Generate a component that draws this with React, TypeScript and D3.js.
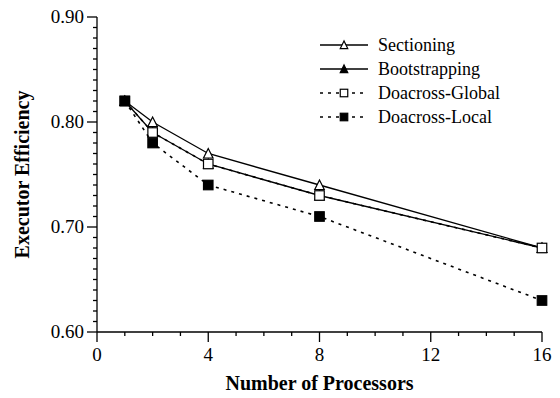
import React from "react";
import * as d3 from "d3";

const processors = [1, 2, 4, 8, 16];
const sectioning = [0.82, 0.80, 0.77, 0.74, 0.68];
const bootstrapping = [0.82, 0.79, 0.76, 0.73, 0.68];
const doacrossGlobal = [0.82, 0.79, 0.76, 0.73, 0.68];
const doacrossLocal = [0.82, 0.78, 0.74, 0.71, 0.63];
const seriesNames = ["Sectioning", "Bootstrapping", "Doacross-Global", "Doacross-Local"];
const xTickLabels = [0, 4, 8, 12, 16];
const yTickLabels = [0.6, 0.7, 0.8, 0.9];

const W = 560;
const H = 398;
const FONT = "'Liberation Serif', 'Times New Roman', serif";

type Marker = "triOpen" | "triFilled" | "sqOpen" | "sqFilled";
const seriesDefs: { name: string; values: number[]; marker: Marker; dashed: boolean }[] = [
  { name: seriesNames[0], values: sectioning, marker: "triOpen", dashed: false },
  { name: seriesNames[1], values: bootstrapping, marker: "triFilled", dashed: false },
  { name: seriesNames[2], values: doacrossGlobal, marker: "sqOpen", dashed: true },
  { name: seriesNames[3], values: doacrossLocal, marker: "sqFilled", dashed: true },
];

function MarkerShape({ type, cx, cy, size }: { type: Marker; cx: number; cy: number; size: number }) {
  if (type === "triOpen" || type === "triFilled") {
    const s = size;
    const h = size * 0.95;
    const pts = `${cx},${cy - h / 2 - 0.5} ${cx - s / 2},${cy + h / 2} ${cx + s / 2},${cy + h / 2}`;
    return (
      <polygon
        points={pts}
        fill={type === "triFilled" ? "#000" : "#fff"}
        stroke="#000"
        strokeWidth={1.2}
      />
    );
  }
  const s = size;
  return (
    <rect
      x={cx - s / 2}
      y={cy - s / 2}
      width={s}
      height={s}
      fill={type === "sqFilled" ? "#000" : "#fff"}
      stroke="#000"
      strokeWidth={1.2}
    />
  );
}

export default function App() {
  const x = d3.scaleLinear().domain([0, 16]).range([97, 542]);
  const y = d3.scaleLinear().domain([0.6, 0.9]).range([332, 17]);

  const line = d3
    .line<[number, number]>()
    .x((d) => x(d[0]))
    .y((d) => y(d[1]));

  const xMinor = d3.range(0, 17, 1);
  const yMinor = d3.range(0, 31).map((i) => 0.6 + i * 0.01);

  const legendX1 = 320;
  const legendX2 = 368;
  const legendRows = [45, 69, 93, 117];

  return (
    <div style={{ position: "fixed", left: 0, top: 0 }}>
      <svg width={W} height={H} style={{ display: "block", background: "#fff" }}>
        <rect x={0} y={0} width={W} height={H} fill="#fff" />
        {/* axes */}
        <g stroke="#000" strokeWidth={1.3}>
          <line x1={x(0)} y1={y(0.6)} x2={x(16)} y2={y(0.6)} />
          <line x1={x(0)} y1={y(0.6)} x2={x(0)} y2={y(0.9)} />
          {xMinor.map((v) => {
            const major = xTickLabels.includes(v);
            return (
              <line
                key={"xt" + v}
                x1={x(v)}
                x2={x(v)}
                y1={y(0.6)}
                y2={y(0.6) + (major ? 10 : 4)}
              />
            );
          })}
          {yMinor.map((v, i) => {
            const major = i % 10 === 0;
            return (
              <line
                key={"yt" + i}
                x1={x(0)}
                x2={x(0) - (major ? 10 : 4)}
                y1={y(v)}
                y2={y(v)}
              />
            );
          })}
        </g>
        <g fontFamily={FONT} fontSize={19} fill="#000">
          {xTickLabels.map((v) => (
            <text key={"xl" + v} x={x(v)} y={y(0.6) + 29} textAnchor="middle">
              {v}
            </text>
          ))}
          {yTickLabels.map((v) => (
            <text key={"yl" + v} x={x(0) - 13} y={y(v) + 6} textAnchor="end">
              {v.toFixed(2)}
            </text>
          ))}
        </g>
        <text
          x={(x(0) + x(16)) / 2}
          y={390}
          textAnchor="middle"
          fontFamily={FONT}
          fontWeight="bold"
          fontSize={20}
        >
          Number of Processors
        </text>
        <text
          transform={`translate(29, ${(y(0.6) + y(0.9)) / 2}) rotate(-90)`}
          textAnchor="middle"
          fontFamily={FONT}
          fontWeight="bold"
          fontSize={20}
        >
          Executor Efficiency
        </text>

        {/* series */}
        {seriesDefs.map((s) => {
          const pts: [number, number][] = processors.map((p, i) => [p, s.values[i]]);
          return (
            <g key={s.name}>
              <path
                d={line(pts) || ""}
                fill="none"
                stroke="#000"
                strokeWidth={s.dashed ? 1.6 : 1.3}
                strokeDasharray={s.dashed ? "3,5" : undefined}
              />
              {pts.map((p, i) => (
                <MarkerShape key={i} type={s.marker} cx={x(p[0])} cy={y(p[1])} size={9.5} />
              ))}
            </g>
          );
        })}

        {/* legend */}
        {seriesDefs.map((s, i) => {
          const ly = legendRows[i];
          return (
            <g key={"lg" + s.name}>
              <line
                x1={legendX1}
                x2={legendX2}
                y1={ly}
                y2={ly}
                stroke="#000"
                strokeWidth={s.dashed ? 1.6 : 1.3}
                strokeDasharray={s.dashed ? "3,5" : undefined}
              />
              <MarkerShape type={s.marker} cx={(legendX1 + legendX2) / 2} cy={ly} size={7.5} />
              <text
                x={378}
                y={ly + 6}
                fontFamily={FONT}
                fontSize={18}
                fill="#000"
              >
                {s.name}
              </text>
            </g>
          );
        })}
      </svg>
    </div>
  );
}
